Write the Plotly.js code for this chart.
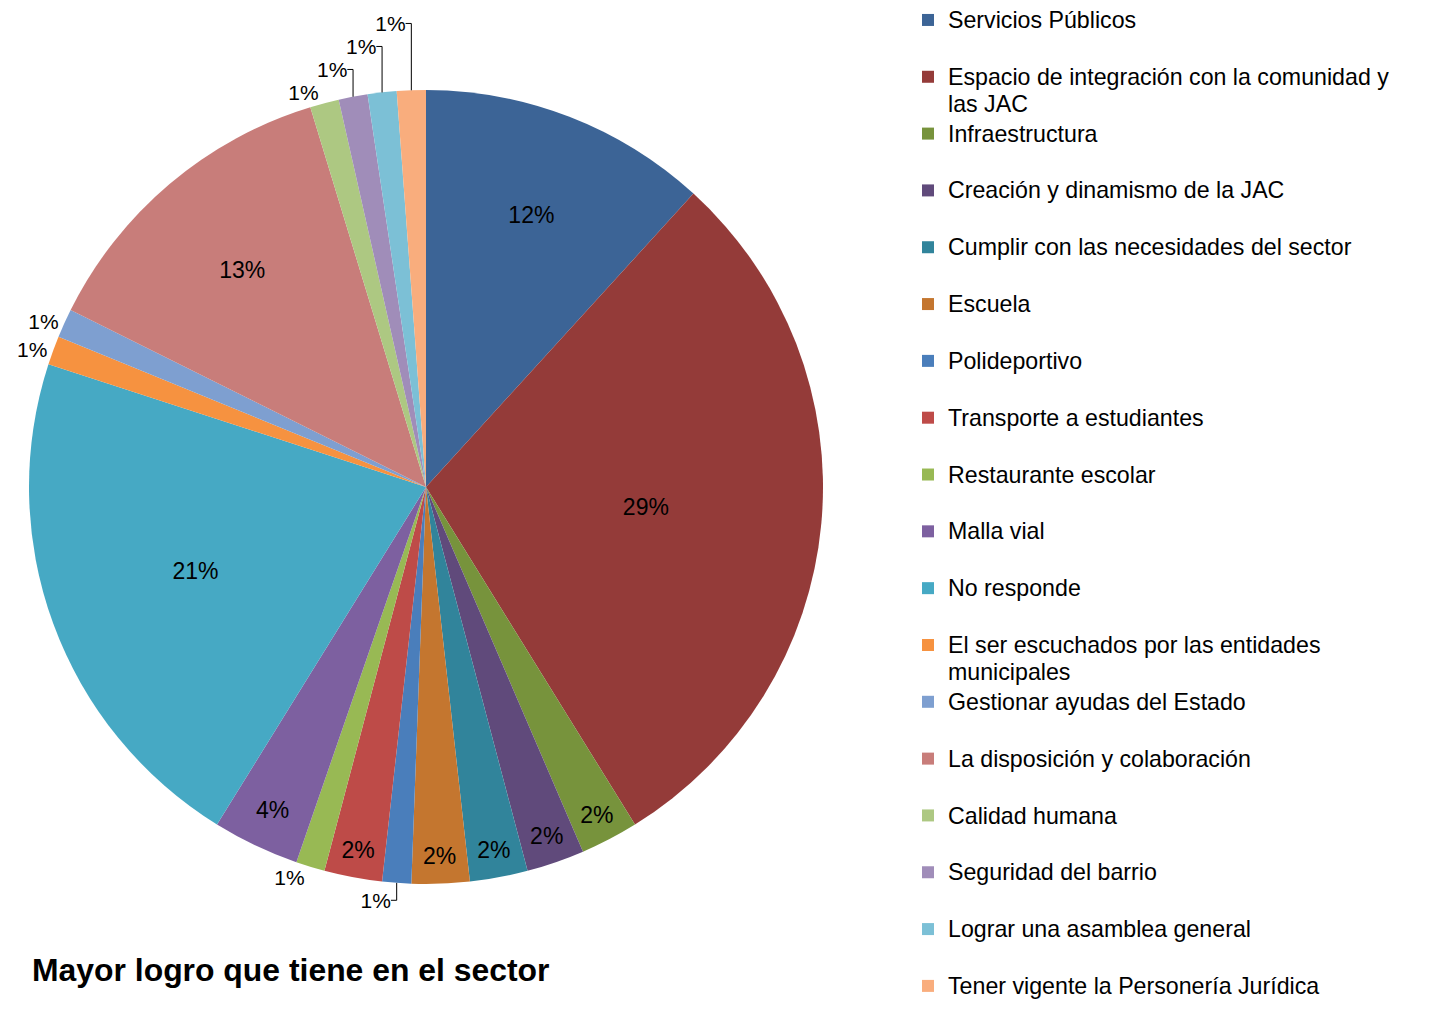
<!DOCTYPE html>
<html>
<head>
<meta charset="utf-8">
<script src="https://cdn.plot.ly/plotly-3.0.1.min.js"></script>
<style>
  html, body { margin: 0; padding: 0; background: #ffffff; }
  #chart { width: 1429px; height: 1011px; }
</style>
</head>
<body>
<div id="chart"></div>
<script>
// Categories (legend order = slice order, clockwise from 12 o'clock)
const categories = [
  "Servicios Públicos",
  "Espacio de integración con la comunidad y<br>las JAC",
  "Infraestructura",
  "Creación y dinamismo de la JAC",
  "Cumplir con las necesidades del sector",
  "Escuela",
  "Polideportivo",
  "Transporte a estudiantes",
  "Restaurante escolar",
  "Malla vial",
  "No responde",
  "El ser escuchados por las entidades<br>municipales",
  "Gestionar ayudas del Estado",
  "La disposición y colaboración",
  "Calidad humana",
  "Seguridad del barrio",
  "Lograr una asamblea general",
  "Tener vigente la Personería Jurídica"
];

// Estimated response counts (shares)
const counts = [10, 25, 2, 2, 2, 2, 1, 2, 1, 3, 18, 1, 1, 11, 1, 1, 1, 1];

const sliceColors = [
  "#3C6496", "#943B39", "#77933C", "#604A7B", "#31849B", "#C4762F",
  "#4A7EBB", "#BE4B48", "#98B954", "#7D60A0", "#46A9C4", "#F69240",
  "#7E9FD0", "#C87D7A", "#ADC882", "#A08DB9", "#7CC0D6", "#F9AD7D"
];

const chartTitle = "Mayor logro que tiene en el sector";

const W = 1429, H = 1011;
const cx = 426, cy = 487, R = 397;
const FONT = "'Liberation Sans', Arial, sans-serif";
const LEGEND_TEXT_PX = 23.2;

// Legend entries: each text line enlarged; single-line entries get an empty
// second line so every entry takes the same vertical step.
const styleLine = s => '<span style="font-size:' + LEGEND_TEXT_PX + 'px">' + s + '</span>';
const legendLabels = categories.map((c, i) => {
  const lines = c.split("<br>").map(styleLine);
  if (lines.length === 1 && i !== categories.length - 1) lines.push("&nbsp;");
  return lines.join("<br>");
});

const positions = counts.map(v => v <= 1 ? "outside" : "inside");
const labelSizes = counts.map(v => v > 1 ? 23 : 21);

const trace = {
  type: "pie",
  labels: legendLabels,
  values: counts,
  sort: false,
  direction: "clockwise",
  rotation: 0,
  marker: { colors: sliceColors, line: { width: 0 } },
  texttemplate: "%{percent:.0%}",
  textposition: positions,
  insidetextorientation: "horizontal",
  textfont: { family: FONT, size: labelSizes, color: "#000000" },
  outsidetextfont: { family: FONT, size: labelSizes, color: "#000000" },
  hoverinfo: "label+percent",
  domain: {
    x: [(cx - R) / W, (cx + R) / W],
    y: [(H - cy - R) / H, (H - cy + R) / H]
  }
};

const layout = {
  width: W,
  height: H,
  margin: { l: 0, r: 0, t: 0, b: 0, pad: 0 },
  paper_bgcolor: "#ffffff",
  plot_bgcolor: "#ffffff",
  showlegend: true,
  legend: {
    x: 908 / W,
    xanchor: "left",
    y: 1,
    yanchor: "top",
    valign: "top",
    traceorder: "normal",
    font: { family: FONT, size: 20.7, color: "#000000" },
    bgcolor: "rgba(0,0,0,0)",
    borderwidth: 0
  },
  title: {
    text: chartTitle,
    x: 32 / W,
    xanchor: "left",
    xref: "paper",
    y: 1 - 970 / H,
    yanchor: "middle",
    yref: "container",
    font: { family: FONT, size: 31.9, color: "#000000", weight: "bold" }
  }
};

Plotly.newPlot("chart", [trace], layout, { displayModeBar: false, responsive: false });
</script>
</body>
</html>
